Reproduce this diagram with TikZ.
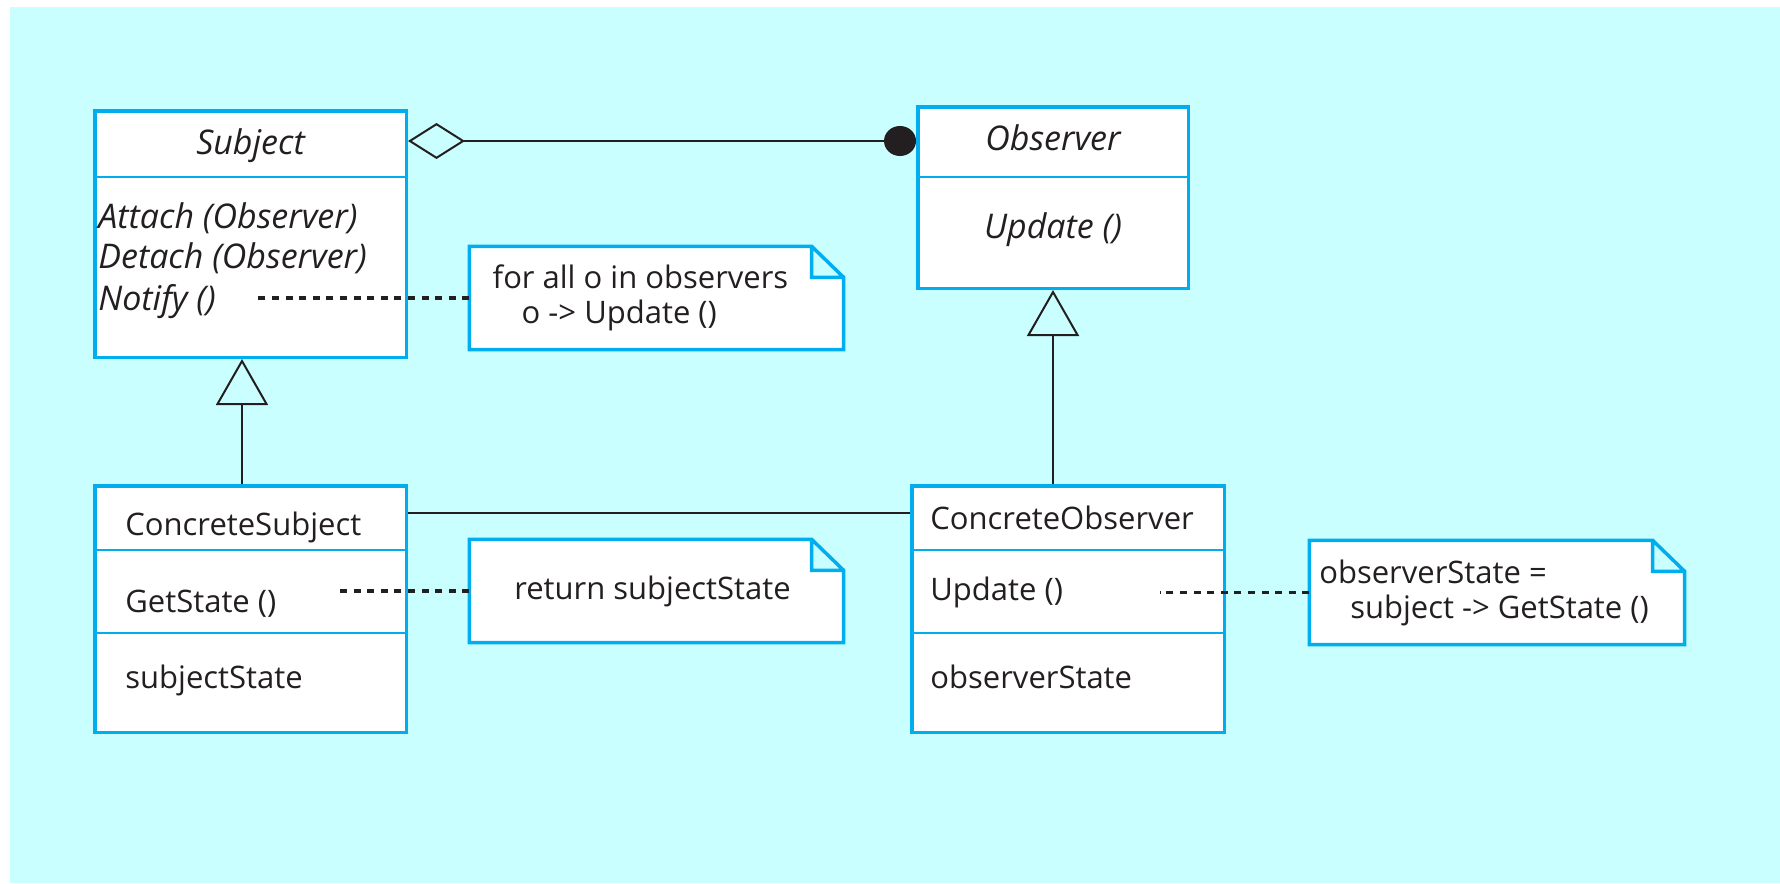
\documentclass[tikz,border=0pt]{standalone}
\usepackage{fontspec}
\setmainfont{Open Sans}
\usetikzlibrary{arrows.meta,positioning}
\definecolor{bgcyan}{RGB}{202,255,255}
\definecolor{umlblue}{RGB}{0,174,239}
\definecolor{ink}{RGB}{35,31,32}
\pgfdeclarelayer{back}
\pgfsetlayers{back,main}

\begin{document}
\begin{tikzpicture}[x=0.5pt, y=-0.5pt, text=ink,
	font=\fontsize{15.5}{20.5}\selectfont,
	classbox/.style = { rectangle, draw=umlblue, line width=1.75pt, fill=white,
	inner sep=0pt},
	divider/.style = { draw=umlblue, line width=1.2pt},
	member/.style = { anchor=base west, inner sep=0pt},
	operation/.style = { member, font=\fontsize{17}{20.5}\selectfont\itshape},
	abstract/.style = { anchor=base, inner sep=0pt, font=\fontsize{17}{20.5}\selectfont\itshape},
	note/.style = { rectangle, inner sep=0pt, align=left,
	font=\fontsize{15.5}{17.5}\selectfont},
	notepen/.style = { draw=umlblue, fill=white, line width=1.75pt, line join=miter},
	link/.style = { draw=ink, line width=1pt},
	generalize/.style = { link, -{Triangle[open, length=23pt, width=26pt]}},
	anchorline/.style = { draw=ink, line width=1.8pt, dash pattern=on 3.5pt off 3.3pt} ]

  \useasboundingbox (0,0) rectangle (1780,883);
  \begin{pgfonlayer}{back}
    \fill[white] (0,0) rectangle (1780,883);
    \fill[bgcyan] (10,7) rectangle (1780,883);
  \end{pgfonlayer}

  % abstract classes
  \node [name=subj, classbox, minimum width=155.75pt, minimum height=123.25pt]
	at (250.5,234) {};
  \draw [divider] (subj.west |- 0,177) -- (subj.east |- 0,177);
  \node [name=subjName, abstract] at (250.5,155) { Subject };
  \node [name=attach, operation] at (98,228) { Attach (Observer) };
  \node [name=detach, operation] at (98,268) { Detach (Observer) };
  \node [name=notify, operation] at (98,310) { Notify () };

  \node [name=obs, classbox, minimum width=135.25pt, minimum height=90.75pt]
	at (1053,197.5) {};
  \draw [divider] (obs.west |- 0,177) -- (obs.east |- 0,177);
  \node [name=obsName, abstract] at (1053,150) { Observer };
  \node [name=obsUpdate, abstract] at (1053,238) { Update () };

  % concrete classes
  \node [name=csubj, classbox, minimum width=155.75pt, minimum height=123.25pt]
	at (250.5,609) {};
  \draw [divider] (csubj.west |- 0,550) -- (csubj.east |- 0,550);
  \draw [divider] (csubj.west |- 0,633) -- (csubj.east |- 0,633);
  \node [name=csubjName, member] at (125,535) { ConcreteSubject };
  \node [name=getState, member] at (125,612) { GetState () };
  \node [name=subjState, member] at (125,688) { subjectState };

  \node [name=cobs, classbox, minimum width=156.25pt, minimum height=123.25pt]
	at (1068,609) {};
  \draw [divider] (cobs.west |- 0,550) -- (cobs.east |- 0,550);
  \draw [divider] (cobs.west |- 0,633) -- (cobs.east |- 0,633);
  \node [name=cobsName, member] at (930,529) { ConcreteObserver };
  \node [name=cobsUpdate, member] at (930,600) { Update () };
  \node [name=obsState, member] at (930,688) { observerState };

  % notes
  \node [name=noteA, note, minimum width=186.75pt, minimum height=51.25pt]
	at (656.5,298) { for all o in observers\hspace*{16pt}\\\hspace*{14.5pt}o -> Update () };
  \node [name=noteB, note, minimum width=186.75pt, minimum height=51.25pt]
	at (656.5,591) { return subjectState };
  \node [name=noteC, note, minimum width=187.25pt, minimum height=51.75pt]
	at (1497,592.5) { observerState =\\\hspace*{15.5pt}subject -> GetState ()\hspace*{13pt} };
  \begin{pgfonlayer}{back}
    \foreach \n in {noteA,noteB,noteC}
      \filldraw [notepen] (\n.south west) -- (\n.north west)
	-- ([xshift=-16pt]\n.north east) -- ([yshift=-15.5pt]\n.north east)
	-- (\n.south east) -- cycle
	([xshift=-16pt]\n.north east) -- ([xshift=-16pt, yshift=-15.5pt]\n.north east)
	-- ([yshift=-15.5pt]\n.north east);
  \end{pgfonlayer}

  % connectors
  \draw [link, {Diamond[open, length=28.5pt, width=18pt]}-{Circle[length=16pt, width=15pt]}]
	(subj.east |- 0,141) -- (obs.west |- 0,141);
  \draw [generalize] ([xshift=-4.25pt]csubj.north) -- ([xshift=-4.25pt]subj.south);
  \draw [generalize] (cobs.north -| obs.south) -- (obs.south);
  \draw [link] (csubj.east |- 0,513) -- (cobs.west |- 0,513);
  \draw [anchorline] (noteA.west) -- ++(-107.9pt,0);
  \draw [anchorline] (noteB.west) -- ++(-65.4pt,0);
  \draw [anchorline] (noteC.west) -- ++(-74.9pt,0);
\end{tikzpicture}
\end{document}
